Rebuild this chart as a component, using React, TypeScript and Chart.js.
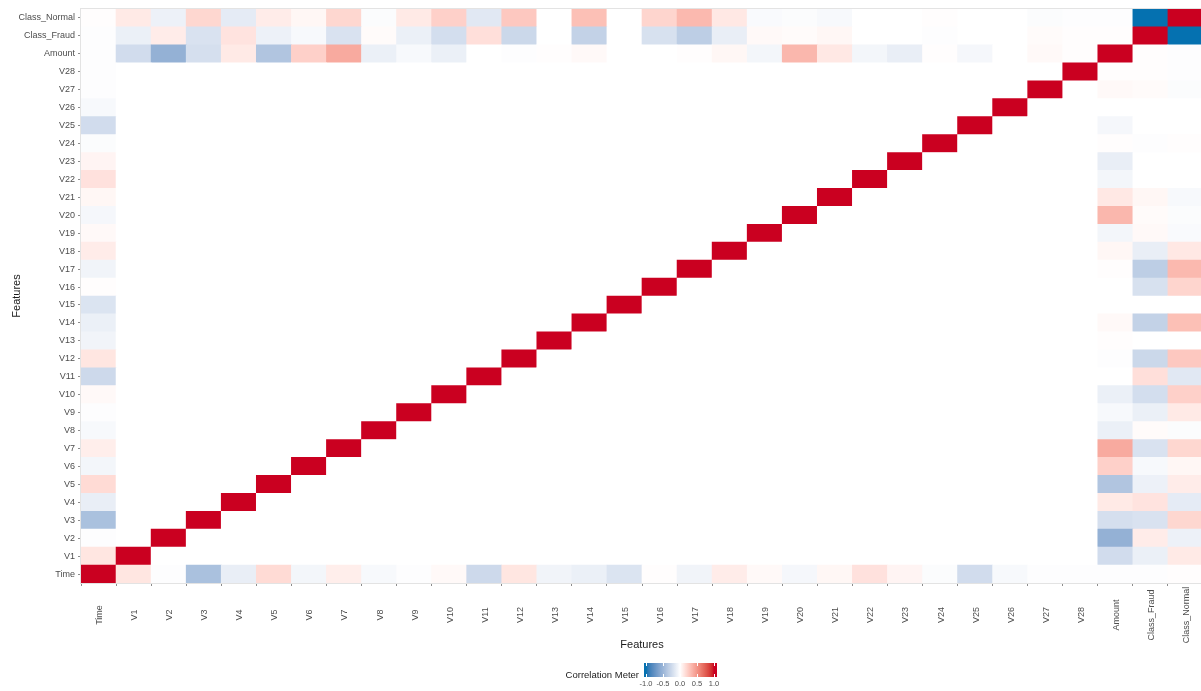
import React, { useEffect, useRef } from 'react';
import { Chart, registerables } from 'chart.js';

Chart.register(...registerables);

const features = [
  'Time', 'V1', 'V2', 'V3', 'V4', 'V5', 'V6', 'V7', 'V8', 'V9', 'V10',
  'V11', 'V12', 'V13', 'V14', 'V15', 'V16', 'V17', 'V18', 'V19', 'V20',
  'V21', 'V22', 'V23', 'V24', 'V25', 'V26', 'V27', 'V28',
  'Amount', 'Class_Fraud', 'Class_Normal',
];

// correlation of each special feature with every feature (in `features` order)
const timeCorr = [
  1, 0.12, -0.01, -0.42, -0.11, 0.17, -0.06, 0.08, -0.04, -0.01, 0.03,
  -0.25, 0.12, -0.07, -0.10, -0.18, 0.01, -0.07, 0.09, 0.03, -0.05,
  0.04, 0.14, 0.05, -0.02, -0.23, -0.04, -0.01, -0.01,
  -0.01, -0.01, 0.01,
];
const amountCorr = [
  -0.01, -0.23, -0.53, -0.21, 0.10, -0.39, 0.22, 0.40, -0.10, -0.04, -0.10,
  0.00, -0.01, 0.01, 0.03, 0.00, 0.00, 0.01, 0.04, -0.06, 0.34,
  0.11, -0.06, -0.11, 0.01, -0.05, 0.00, 0.03, 0.01,
  1, 0.01, -0.01,
];
const fraudCorr = [
  -0.01, -0.10, 0.09, -0.19, 0.13, -0.09, -0.04, -0.19, 0.02, -0.10, -0.22,
  0.15, -0.26, 0.00, -0.30, 0.00, -0.20, -0.33, -0.11, 0.03, 0.02,
  0.04, 0.00, 0.00, -0.01, 0.00, 0.00, 0.02, 0.01,
  0.01, 1, -1,
];
const normalCorr = [
  0.01, 0.10, -0.09, 0.19, -0.13, 0.09, 0.04, 0.19, -0.02, 0.10, 0.22,
  -0.15, 0.26, 0.00, 0.30, 0.00, 0.20, 0.33, 0.11, -0.03, -0.02,
  -0.04, 0.00, 0.00, 0.01, 0.00, 0.00, -0.02, -0.01,
  -0.01, -1, 1,
];
const legendTicks = [-1, -0.5, 0, 0.5, 1];

const specialRows: Record<number, number[]> = {
  0: timeCorr,
  29: amountCorr,
  30: fraudCorr,
  31: normalCorr,
};

function corr(r: number, c: number): number {
  if (specialRows[r]) return specialRows[r][c];
  if (specialRows[c]) return specialRows[c][r];
  return r === c ? 1 : 0;
}

// ---- colour scale (Lab interpolation, like ggplot's gradient2) ----
const LOW = '#0571B0';
const MID = '#FFFFFF';
const HIGH = '#CA0020';

function hexToRgb(h: string): number[] {
  return [parseInt(h.slice(1, 3), 16), parseInt(h.slice(3, 5), 16), parseInt(h.slice(5, 7), 16)];
}
function toLin(c: number) {
  const v = c / 255;
  return v <= 0.04045 ? v / 12.92 : Math.pow((v + 0.055) / 1.055, 2.4);
}
function fromLin(c: number) {
  const v = c <= 0.0031308 ? 12.92 * c : 1.055 * Math.pow(c, 1 / 2.4) - 0.055;
  return Math.round(Math.max(0, Math.min(1, v)) * 255);
}
function rgbToLab(rgb: number[]): number[] {
  const R = toLin(rgb[0]), G = toLin(rgb[1]), B = toLin(rgb[2]);
  const X = (0.4124 * R + 0.3576 * G + 0.1805 * B) / 0.95047;
  const Y = 0.2126 * R + 0.7152 * G + 0.0722 * B;
  const Z = (0.0193 * R + 0.1192 * G + 0.9505 * B) / 1.08883;
  const f = (t: number) => (t > 0.008856 ? Math.cbrt(t) : 7.787 * t + 16 / 116);
  const fx = f(X), fy = f(Y), fz = f(Z);
  return [116 * fy - 16, 500 * (fx - fy), 200 * (fy - fz)];
}
function labToRgb(lab: number[]): number[] {
  const fy = (lab[0] + 16) / 116;
  const fx = fy + lab[1] / 500;
  const fz = fy - lab[2] / 200;
  const inv = (t: number) => (t * t * t > 0.008856 ? t * t * t : (t - 16 / 116) / 7.787);
  const X = 0.95047 * inv(fx), Y = inv(fy), Z = 1.08883 * inv(fz);
  const R = 3.2406 * X - 1.5372 * Y - 0.4986 * Z;
  const G = -0.9689 * X + 1.8758 * Y + 0.0415 * Z;
  const B = 0.0557 * X - 0.204 * Y + 1.057 * Z;
  return [fromLin(R), fromLin(G), fromLin(B)];
}
const lowLab = rgbToLab(hexToRgb(LOW));
const midLab = rgbToLab(hexToRgb(MID));
const highLab = rgbToLab(hexToRgb(HIGH));

function fillFor(v: number): string {
  const t = Math.min(1, Math.abs(v));
  const end = v < 0 ? lowLab : highLab;
  const lab = [0, 1, 2].map((k) => midLab[k] + (end[k] - midLab[k]) * t);
  const rgb = labToRgb(lab);
  return `rgb(${rgb[0]},${rgb[1]},${rgb[2]})`;
}

const FONT = '"Liberation Sans", Arial, sans-serif';
const TEXT_GREY = '#4D4D4D';

const xLabelPlugin = {
  id: 'xLabels',
  afterDraw(chart: any) {
    const s = chart.scales.x;
    const ctx = chart.ctx;
    ctx.save();
    ctx.font = `9px ${FONT}`;
    ctx.fillStyle = TEXT_GREY;
    ctx.textAlign = 'center';
    ctx.textBaseline = 'middle';
    s.ticks.forEach((_t: any, i: number) => {
      const x = s.getPixelForTick(i);
      ctx.save();
      ctx.translate(x + 1, chart.chartArea.bottom + 32);
      ctx.rotate(-Math.PI / 2);
      ctx.fillText(features[i], 0, 0);
      ctx.restore();
    });
    ctx.restore();
  },
};

const borderPlugin = {
  id: 'panelBorder',
  beforeDatasetsDraw(chart: any) {
    const { left, top, right, bottom } = chart.chartArea;
    const ctx = chart.ctx;
    ctx.save();
    ctx.strokeStyle = '#E3E3E3';
    ctx.lineWidth = 1;
    ctx.strokeRect(left - 0.5, top - 0.5, right - left + 1, bottom - top + 1);
    ctx.restore();
  },
};

const W = 1204;
const H = 691;

export default function App() {
  const ref = useRef<HTMLCanvasElement | null>(null);

  useEffect(() => {
    if (!ref.current) return;
    const datasets = features.map((_, r) => ({
      label: features[r],
      data: features.map(() => [r - 0.5, r + 0.5]),
      backgroundColor: features.map((_c, c) => fillFor(corr(r, c))),
      borderWidth: 0,
      barPercentage: 1,
      categoryPercentage: 1,
      grouped: false,
    }));

    const chart = new Chart(ref.current, {
      type: 'bar',
      data: { labels: features, datasets: datasets as any },
      options: {
        animation: false,
        responsive: false,
        maintainAspectRatio: false,
        layout: { padding: { top: 9, right: 1, left: 0, bottom: 36 } },
        plugins: {
          legend: { display: false },
          tooltip: { enabled: false },
        },
        scales: {
          x: {
            type: 'category',
            offset: true,
            grid: {
              display: true,
              drawOnChartArea: false,
              drawTicks: true,
              tickLength: 3,
              color: '#8C8C8C',
            },
            border: { display: false },
            ticks: { display: false, autoSkip: false },
            title: {
              display: true,
              text: 'Features',
              color: '#1A1A1A',
              font: { size: 11, family: FONT },
              padding: { top: 0, bottom: 3 },
            },
            afterFit: (s: any) => {
              s.height = 72;
            },
          },
          y: {
            type: 'linear',
            min: -0.5,
            max: 31.5,
            afterBuildTicks: (s: any) => {
              s.ticks = features.map((_f, i) => ({ value: i }));
            },
            grid: {
              display: true,
              drawOnChartArea: false,
              drawTicks: true,
              tickLength: 3,
              color: '#8C8C8C',
            },
            border: { display: false },
            ticks: {
              autoSkip: false,
              padding: 3,
              color: TEXT_GREY,
              font: { size: 9, family: FONT },
              callback: (v: any) => features[Number(v)] ?? '',
            },
            title: {
              display: true,
              text: 'Features',
              color: '#1A1A1A',
              font: { size: 11, family: FONT },
              padding: { top: 10, bottom: 0 },
            },
            afterFit: (s: any) => {
              s.width = 81;
            },
          },
        },
      },
      plugins: [xLabelPlugin, borderPlugin],
    });
    return () => chart.destroy();
  }, []);

  // legend colour bar
  const barLeft = 644;
  const barWidth = 73;
  const tickStart = 646;
  const tickSpan = 68;
  const stops: string[] = [];
  for (let k = 0; k <= 40; k++) {
    const v = -1 + k * 0.05;
    const px = tickStart + ((v + 1) / 2) * tickSpan - barLeft;
    stops.push(`${fillFor(v)} ${((px / barWidth) * 100).toFixed(2)}%`);
  }
  const gradient = `linear-gradient(to right, ${fillFor(-1)} 0%, ${stops.join(', ')}, ${fillFor(1)} 100%)`;

  return (
    <div
      style={{
        position: 'fixed',
        left: 0,
        top: 0,
        width: 1201,
        height: H,
        overflow: 'hidden',
        background: '#FFFFFF',
      }}
    >
      <canvas ref={ref} width={W} height={H} style={{ width: W, height: H, display: 'block' }} />
      <div
        style={{
          position: 'absolute',
          right: 1201 - 639,
          top: 669,
          font: `9.5px ${FONT}`,
          color: '#1A1A1A',
          whiteSpace: 'nowrap',
          textAlign: 'right',
        }}
      >
        Correlation Meter
      </div>
      <div
        style={{
          position: 'absolute',
          left: barLeft,
          top: 663,
          width: barWidth,
          height: 14,
          background: gradient,
        }}
      >
        {legendTicks.map((t) => {
          const px = tickStart + ((t + 1) / 2) * tickSpan - barLeft;
          return (
            <React.Fragment key={`m${t}`}>
              <div style={{ position: 'absolute', left: px - 0.5, top: 0, width: 1, height: 3, background: '#FFFFFF' }} />
              <div style={{ position: 'absolute', left: px - 0.5, bottom: 0, width: 1, height: 3, background: '#FFFFFF' }} />
            </React.Fragment>
          );
        })}
      </div>
      {legendTicks.map((t) => {
        const px = tickStart + ((t + 1) / 2) * tickSpan;
        return (
          <div
            key={`l${t}`}
            style={{
              position: 'absolute',
              left: px,
              top: 679,
              transform: 'translateX(-50%)',
              font: `7.5px ${FONT}`,
              color: TEXT_GREY,
              whiteSpace: 'nowrap',
            }}
          >
            {t.toFixed(1)}
          </div>
        );
      })}
    </div>
  );
}
